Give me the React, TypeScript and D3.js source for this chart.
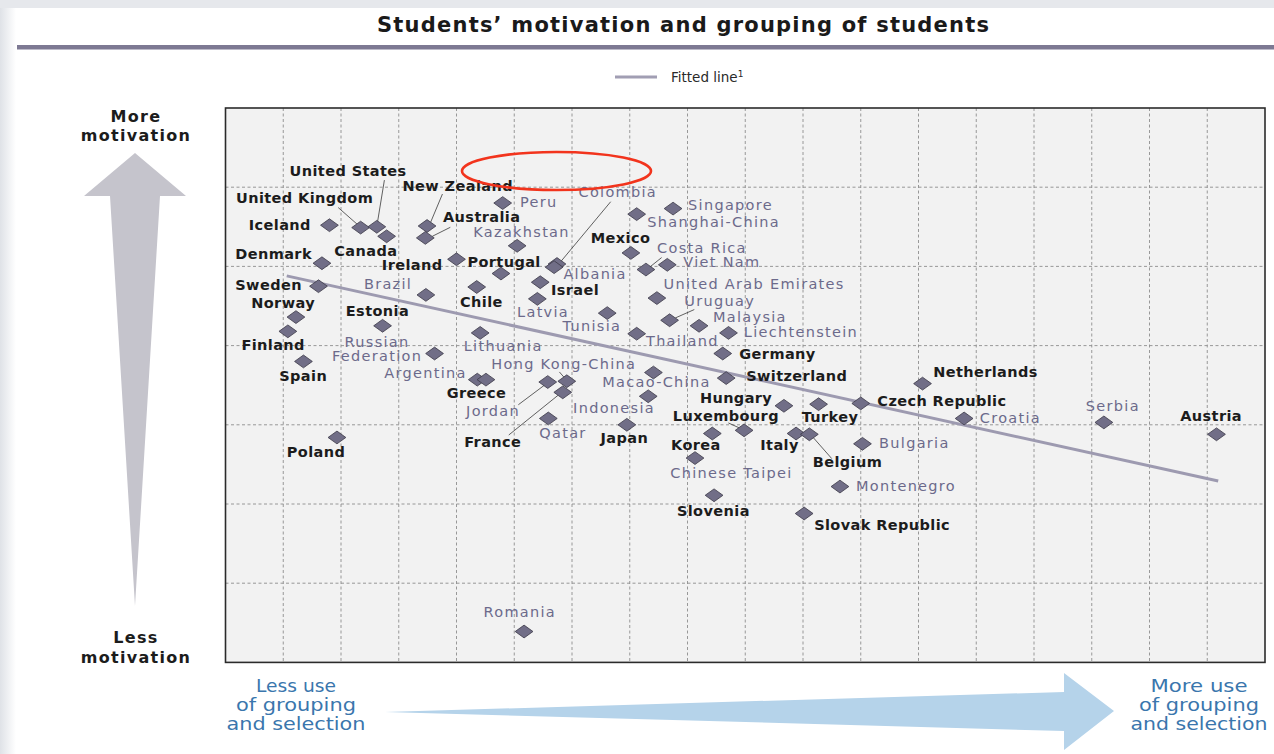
import { useEffect, useRef } from 'react';
import * as d3 from 'd3';

// index of grouping / selection (x) and index of motivation (y), in grid units
const countries = [
  'Iceland', 'United Kingdom', 'United States', 'Canada', 'New Zealand', 'Australia',
  'Peru', 'Kazakhstan', 'Denmark', 'Ireland', 'Portugal', 'Sweden', 'Brazil', 'Chile',
  'Colombia', 'Albania', 'Israel', 'Latvia', 'Norway', 'Finland', 'Estonia',
  'Russian Federation', 'Spain', 'Lithuania', 'Argentina', 'Greece', 'Jordan',
  'Hong Kong-China', 'France', 'Qatar', 'Poland', 'Tunisia', 'Mexico', 'Shanghai-China',
  'Singapore', 'Costa Rica', 'Viet Nam', 'United Arab Emirates', 'Uruguay', 'Malaysia',
  'Liechtenstein', 'Thailand', 'Germany', 'Switzerland', 'Macao-China', 'Indonesia',
  'Japan', 'Hungary', 'Turkey', 'Czech Republic', 'Luxembourg', 'Korea', 'Italy',
  'Belgium', 'Bulgaria', 'Chinese Taipei', 'Montenegro', 'Slovenia', 'Slovak Republic',
  'Netherlands', 'Croatia', 'Serbia', 'Austria', 'Romania',
];
const grouping = [
  1.80, 2.34, 2.62, 2.79, 3.49, 3.46,
  4.80, 5.05, 1.67, 4.00, 4.77, 1.61, 3.47, 4.35,
  5.74, 5.69, 5.45, 5.40, 1.22, 1.08, 2.72,
  3.62, 1.35, 4.41, 4.36, 4.51, 5.58,
  5.91, 5.84, 5.59, 1.93, 6.61, 7.02, 7.12,
  7.75, 7.28, 7.65, 7.47, 7.69, 8.20,
  8.71, 7.12, 8.61, 8.67, 7.41, 7.32,
  6.95, 9.67, 10.27, 11.00, 8.98, 8.43, 9.88,
  10.11, 11.03, 8.13, 10.64, 8.46, 10.02,
  12.07, 12.79, 15.21, 17.16, 5.17,
];
const motivation = [
  5.52, 5.49, 5.50, 5.38, 5.51, 5.36,
  5.80, 5.26, 5.04, 5.09, 4.91, 4.75, 4.64, 4.74,
  5.03, 4.99, 4.80, 4.59, 4.36, 4.18, 4.25,
  3.90, 3.80, 4.16, 3.57, 3.57, 3.54,
  3.55, 3.41, 3.08, 2.84, 4.41, 5.17, 5.66,
  5.73, 4.96, 5.02, 4.60, 4.32, 4.25,
  4.16, 4.15, 3.90, 3.59, 3.66, 3.36,
  3.00, 3.24, 3.26, 3.27, 2.93, 2.89, 2.89,
  2.88, 2.76, 2.58, 2.22, 2.11, 1.88,
  3.52, 3.08, 3.03, 2.88, 0.39,
];
// partner economies are labelled in grey, OECD countries in black
const partners = [
  'Peru', 'Kazakhstan', 'Brazil', 'Colombia', 'Albania', 'Latvia', 'Lithuania',
  'Russian Federation', 'Argentina', 'Hong Kong-China', 'Jordan', 'Qatar', 'Tunisia',
  'Singapore', 'Shanghai-China', 'Costa Rica', 'Viet Nam', 'United Arab Emirates',
  'Uruguay', 'Malaysia', 'Liechtenstein', 'Thailand', 'Macao-China', 'Indonesia',
  'Chinese Taipei', 'Bulgaria', 'Montenegro', 'Croatia', 'Serbia', 'Romania',
];
const fittedGrouping = [1.06, 17.19];
const fittedMotivation = [4.88, 2.29];

const W = 1274;
const H = 754;
const FONT = '"DejaVu Sans", Verdana, sans-serif';
const LABEL_SIZE = 14.5;

// label placement relative to the marker: dx, baseline dy, anchor
const labelAt: Record<string, [number, number, string]> = {
  'Iceland': [-18.6, 4.3, 'end'],
  'United Kingdom': [-56, -24.6, 'middle'],
  'United States': [-28.7, -50.7, 'middle'],
  'Canada': [-20.8, 20, 'middle'],
  'New Zealand': [30.7, -35.3, 'middle'],
  'Australia': [17.7, -15.5, 'start'],
  'Peru': [17.3, 4, 'start'],
  'Kazakhstan': [4.4, -8.8, 'middle'],
  'Denmark': [-10, -4, 'end'],
  'Ireland': [-14, 10.7, 'end'],
  'Portugal': [3.1, -6.6, 'middle'],
  'Sweden': [-16.6, 4, 'end'],
  'Brazil': [-13.7, -6.4, 'end'],
  'Chile': [4.7, 20, 'middle'],
  'Colombia': [60.8, -66.7, 'middle'],
  'Albania': [9.3, 11.8, 'start'],
  'Israel': [10.7, 12.7, 'start'],
  'Latvia': [5.7, 18, 'middle'],
  'Norway': [-12.8, -9, 'middle'],
  'Finland': [-14.7, 19, 'middle'],
  'Estonia': [-5.1, -10, 'middle'],
  'Russian Federation': [-57.5, -6.8, 'middle'],
  'Spain': [-0.3, 20, 'middle'],
  'Lithuania': [23, 18, 'middle'],
  'Argentina': [-10.6, -1.7, 'end'],
  'Greece': [-9.4, 18.3, 'middle'],
  'Jordan': [-54.7, 34.4, 'middle'],
  'Hong Kong-China': [-3, -12, 'middle'],
  'France': [-70, 54.4, 'middle'],
  'Qatar': [14.6, 20, 'middle'],
  'Poland': [-20.9, 20, 'middle'],
  'Tunisia': [-15.3, 17.4, 'middle'],
  'Mexico': [-10.4, -9.7, 'middle'],
  'Shanghai-China': [10.6, 13, 'start'],
  'Singapore': [15, 1.7, 'start'],
  'Costa Rica': [56, -17, 'middle'],
  'Viet Nam': [16, 2.5, 'start'],
  'United Arab Emirates': [6.6, -9, 'start'],
  'Uruguay': [14.7, -14, 'start'],
  'Malaysia': [14, -4.3, 'start'],
  'Liechtenstein': [15.3, 4, 'start'],
  'Thailand': [9.3, 12.7, 'start'],
  'Germany': [16.6, 5.5, 'start'],
  'Switzerland': [20, 3.4, 'start'],
  'Macao-China': [3, 14, 'middle'],
  'Indonesia': [6.7, 16.6, 'end'],
  'Japan': [-2.5, 17.7, 'middle'],
  'Hungary': [-11.7, -3, 'end'],
  'Turkey': [11.4, 17.4, 'middle'],
  'Czech Republic': [16.6, 2.4, 'start'],
  'Luxembourg': [-18.2, -9.7, 'middle'],
  'Korea': [-16.4, 16.7, 'middle'],
  'Italy': [-16.5, 16.7, 'middle'],
  'Belgium': [38.1, 32.7, 'middle'],
  'Bulgaria': [16.6, 4.3, 'start'],
  'Chinese Taipei': [36.5, 20, 'middle'],
  'Montenegro': [16, 4, 'start'],
  'Slovenia': [-0.7, 21, 'middle'],
  'Slovak Republic': [10, 16.7, 'start'],
  'Netherlands': [10.6, -6.6, 'start'],
  'Croatia': [15.7, 4.4, 'start'],
  'Serbia': [9, -11, 'middle'],
  'Austria': [-5.4, -13.3, 'middle'],
  'Romania': [-4.3, -15, 'middle'],
};

// leader lines, offsets from the marker: x1, y1, x2, y2
const leaders: Record<string, [number, number, number, number]> = {
  'United States': [7.6, -46.7, 0.6, -4],
  'United Kingdom': [-22.4, -20, -3.4, -3.3],
  'New Zealand': [15.4, -32, 3.4, -3.3],
  'Australia': [25, -10.6, 7, -1.6],
  'Colombia': [53.7, -62.3, 3.7, -2.3],
  'Costa Rica': [15.7, -12, 4, -2.6],
  'Uruguay': [24.7, -10.7, 5.7, -2.3],
  'Jordan': [-29.4, 22.7, -2.7, 2.7],
  'France': [-54, 42.7, -4.4, 2.7],
  'Hong Kong-China': [-7.4, -9.3, -1.7, -2.7],
  'Luxembourg': [-15.7, -7.4, -4.7, -2.4],
  'Belgium': [22.4, 24.3, 3.4, 2.7],
};

export default function App() {
  const ref = useRef<SVGSVGElement>(null);

  useEffect(() => {
    const svg = d3.select(ref.current);
    svg.selectAll('*').remove();

    // page frame
    const defs = svg.append('defs');
    const grad = defs.append('linearGradient').attr('id', 'edge');
    grad.append('stop').attr('offset', '0%').attr('stop-color', '#dfe2e7');
    grad.append('stop').attr('offset', '100%').attr('stop-color', '#ffffff');
    svg.append('rect').attr('width', W).attr('height', H).attr('fill', '#ffffff');
    svg.append('rect').attr('width', W).attr('height', 8).attr('fill', '#e6e8ec');
    svg.append('rect').attr('y', 8).attr('width', 16).attr('height', H - 8).attr('fill', 'url(#edge)');

    // title
    svg.append('text')
      .attr('x', 683).attr('y', 32)
      .attr('text-anchor', 'middle')
      .attr('font-family', FONT).attr('font-weight', 'bold').attr('font-size', 21)
      .attr('fill', '#1a1a1a')
      .attr('textLength', 612).attr('lengthAdjust', 'spacing')
      .text('Students’ motivation and grouping of students');
    svg.append('rect').attr('x', 17).attr('y', 45).attr('width', W - 17).attr('height', 4.5)
      .attr('fill', '#7d7993');

    // legend
    svg.append('line').attr('x1', 615).attr('x2', 657).attr('y1', 77).attr('y2', 77)
      .attr('stroke', '#a19eb3').attr('stroke-width', 3);
    const lg = svg.append('text').attr('x', 671).attr('y', 82)
      .attr('font-family', FONT).attr('font-size', 13.5).attr('fill', '#2a2a2a');
    lg.append('tspan').text('Fitted line');
    lg.append('tspan').attr('dy', -5).attr('font-size', 9).text('1');

    // plot
    const x = d3.scaleLinear().domain([0, 18]).range([225.5, 1265]);
    const y = d3.scaleLinear().domain([0, 7]).range([662.4, 108]);

    svg.append('rect')
      .attr('x', x(0)).attr('y', y(7))
      .attr('width', x(18) - x(0)).attr('height', y(0) - y(7))
      .attr('fill', '#f2f2f2');

    const grid = svg.append('g')
      .attr('stroke', '#8d8d8d').attr('stroke-width', 0.9).attr('stroke-dasharray', '3,2.5');
    grid.selectAll('.gx').data(d3.range(1, 18)).enter().append('line')
      .attr('x1', d => x(d)).attr('x2', d => x(d))
      .attr('y1', y(7)).attr('y2', y(0));
    grid.selectAll('.gy').data(d3.range(1, 7)).enter().append('line')
      .attr('y1', d => y(d)).attr('y2', d => y(d))
      .attr('x1', x(0)).attr('x2', x(18));

    svg.append('rect')
      .attr('x', x(0)).attr('y', y(7))
      .attr('width', x(18) - x(0)).attr('height', y(0) - y(7))
      .attr('fill', 'none').attr('stroke', '#2b2b2b').attr('stroke-width', 1.6);

    // fitted line
    const fit = fittedGrouping.map((g, i) => [g, fittedMotivation[i]] as [number, number]);
    svg.append('path')
      .attr('d', d3.line<[number, number]>().x(d => x(d[0])).y(d => y(d[1]))(fit))
      .attr('fill', 'none').attr('stroke', '#9d9ab0').attr('stroke-width', 3);

    const points = countries.map((c, i) => ({
      name: c,
      px: x(grouping[i]),
      py: y(motivation[i]),
      partner: partners.includes(c),
    }));

    // leader lines
    svg.append('g').selectAll('line')
      .data(points.filter(p => leaders[p.name]))
      .enter().append('line')
      .attr('x1', p => p.px + leaders[p.name][0]).attr('y1', p => p.py + leaders[p.name][1])
      .attr('x2', p => p.px + leaders[p.name][2]).attr('y2', p => p.py + leaders[p.name][3])
      .attr('stroke', '#3a3a3a').attr('stroke-width', 0.8);

    // markers
    const diamond = d3.symbol().type(d3.symbolSquare).size(158);
    svg.append('g').selectAll('path')
      .data(points)
      .enter().append('path')
      .attr('d', diamond())
      .attr('transform', p => `translate(${p.px},${p.py}) scale(1,0.72) rotate(45)`)
      .attr('fill', '#716e87')
      .attr('stroke', '#3c3a48')
      .attr('stroke-width', 0.8)
      .attr('vector-effect', 'non-scaling-stroke');

    // labels
    const labels = svg.append('g').attr('font-family', FONT).attr('font-size', LABEL_SIZE);
    points.forEach(p => {
      const [dx, dy, anchor] = labelAt[p.name];
      const t = labels.append('text')
        .attr('x', p.px + dx).attr('y', p.py + dy)
        .attr('text-anchor', anchor)
        .attr('fill', p.partner ? '#6c6a8b' : '#1c1c1c')
        .attr('font-weight', p.partner ? 'normal' : 'bold')
        .attr('letter-spacing', p.partner ? 1.3 : 0.4);
      if (p.name === 'Russian Federation') {
        t.append('tspan').attr('x', p.px + dx).text('Russian');
        t.append('tspan').attr('x', p.px + dx).attr('dy', LABEL_SIZE).text('Federation');
      } else {
        t.text(p.name);
      }
    });

    // red highlight ellipse
    svg.append('ellipse')
      .attr('cx', 556.5).attr('cy', 171).attr('rx', 94.5).attr('ry', 19)
      .attr('fill', 'none').attr('stroke', '#f2341d').attr('stroke-width', 2.6);

    // vertical arrow
    svg.append('path')
      .attr('d', 'M135,153 L186,196 L160,196 L135,606 L110,196 L84,196 Z')
      .attr('fill', '#c5c4cc');
    const side = svg.append('g')
      .attr('font-family', FONT).attr('font-weight', 'bold').attr('font-size', 16)
      .attr('letter-spacing', 1.3).attr('fill', '#1c1c1c').attr('text-anchor', 'middle');
    side.append('text').attr('x', 136).attr('y', 122).text('More');
    side.append('text').attr('x', 136).attr('y', 141).text('motivation');
    side.append('text').attr('x', 136).attr('y', 643).text('Less');
    side.append('text').attr('x', 136).attr('y', 663).text('motivation');

    // horizontal arrow
    svg.append('path')
      .attr('d', 'M385,712 L1064,692 L1064,673 L1114,711 L1064,750 L1064,731 Z')
      .attr('fill', '#b5d3ea');
    const bottom = svg.append('g')
      .attr('font-family', FONT).attr('font-size', 17.5)
      .attr('fill', '#3a76ad').attr('text-anchor', 'middle');
    const leftLines: [string, number][] = [['Less use', 80], ['of grouping', 120], ['and selection', 139]];
    const rightLines: [string, number][] = [['More use', 97], ['of grouping', 120], ['and selection', 137]];
    leftLines.forEach(([s, w], i) => {
      bottom.append('text').attr('x', 296).attr('y', 692 + i * 19)
        .attr('textLength', w).attr('lengthAdjust', 'spacingAndGlyphs').text(s);
    });
    rightLines.forEach(([s, w], i) => {
      bottom.append('text').attr('x', 1199).attr('y', 692 + i * 19)
        .attr('textLength', w).attr('lengthAdjust', 'spacingAndGlyphs').text(s);
    });
  }, []);

  return (
    <svg
      ref={ref}
      width={W}
      height={H}
      style={{ position: 'absolute', left: 0, top: 0, display: 'block' }}
    />
  );
}
